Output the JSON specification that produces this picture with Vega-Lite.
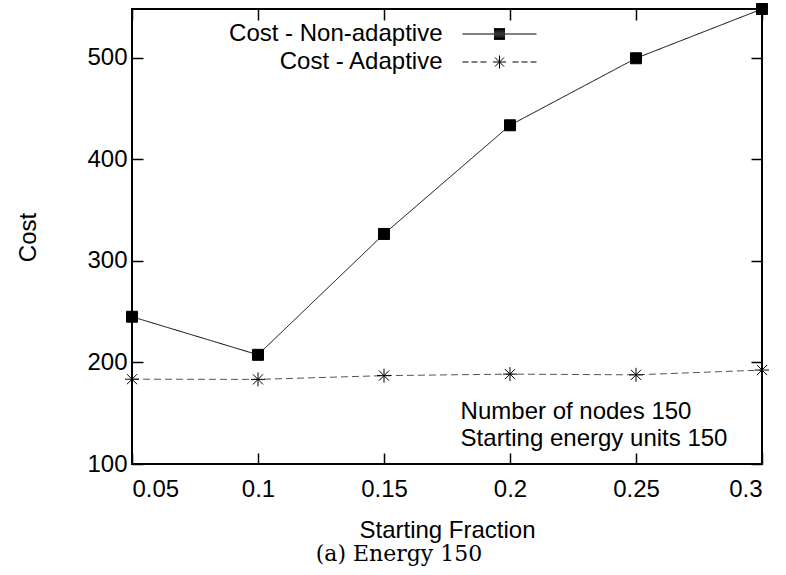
{
  "$schema": "https://vega.github.io/schema/vega-lite/v6.json",
  "autosize": {"type": "none"},
  "padding": {"left": 132, "top": 9, "right": 24, "bottom": 111},
  "width": 630,
  "height": 455,
  "background": "white",
  "title": {
    "text": "(a) Energy 150",
    "orient": "bottom",
    "anchor": "middle",
    "frame": "group",
    "dx": -48,
    "offset": 2,
    "font": "DejaVu Serif",
    "fontSize": 22,
    "fontWeight": "normal",
    "color": "black"
  },
  "config": {
    "view": {"stroke": "black", "strokeWidth": 2},
    "axis": {
      "labelFont": "Liberation Sans",
      "labelFontSize": 24,
      "labelColor": "black",
      "titleFont": "Liberation Sans",
      "titleFontSize": 24,
      "titleFontWeight": "normal",
      "titleColor": "black",
      "tickColor": "black",
      "tickWidth": 1.5,
      "tickSize": -11,
      "domain": false,
      "grid": false
    },
    "legend": {
      "labelFont": "Liberation Sans",
      "labelFontSize": 24,
      "labelColor": "black",
      "labelLimit": 500
    }
  },
  "data": {
    "values": [
      {"fraction": 0.05, "cost": 245, "series": "Cost - Non-adaptive"},
      {"fraction": 0.1, "cost": 207.5, "series": "Cost - Non-adaptive"},
      {"fraction": 0.15, "cost": 326.5, "series": "Cost - Non-adaptive"},
      {"fraction": 0.2, "cost": 433.5, "series": "Cost - Non-adaptive"},
      {"fraction": 0.25, "cost": 499.5, "series": "Cost - Non-adaptive"},
      {"fraction": 0.3, "cost": 548, "series": "Cost - Non-adaptive"},
      {"fraction": 0.05, "cost": 183.5, "series": "Cost - Adaptive"},
      {"fraction": 0.1, "cost": 183.3, "series": "Cost - Adaptive"},
      {"fraction": 0.15, "cost": 187, "series": "Cost - Adaptive"},
      {"fraction": 0.2, "cost": 188.5, "series": "Cost - Adaptive"},
      {"fraction": 0.25, "cost": 187.8, "series": "Cost - Adaptive"},
      {"fraction": 0.3, "cost": 192.5, "series": "Cost - Adaptive"}
    ]
  },
  "resolve": {
    "axis": {"x": "independent", "y": "independent"},
    "scale": {"shape": "independent"},
    "legend": {"shape": "independent"}
  },
  "layer": [
    {
      "mark": {"type": "line", "strokeWidth": 1},
      "encoding": {
        "x": {
          "field": "fraction", "type": "quantitative",
          "scale": {"domain": [0.05, 0.3], "nice": false, "zero": false},
          "axis": {
            "orient": "bottom",
            "values": [0.05, 0.1, 0.15, 0.2, 0.25, 0.3],
            "format": "~g",
            "labelPadding": 24,
            "title": "Starting Fraction",
            "titlePadding": 17
          }
        },
        "y": {
          "field": "cost", "type": "quantitative",
          "scale": {"domain": [100, 548], "nice": false, "zero": false},
          "axis": {
            "orient": "left",
            "values": [100, 200, 300, 400, 500],
            "labelPadding": 16,
            "title": "Cost",
            "titleX": -97,
            "titleY": 228,
            "titleAngle": -90,
            "titleBaseline": "alphabetic"
          }
        },
        "detail": {"field": "series", "type": "nominal"},
        "strokeDash": {
          "condition": {"test": "datum.series === 'Cost - Adaptive'", "value": [7, 4]},
          "value": [1, 0]
        },
        "stroke": {
          "condition": {"test": "datum.series === 'Cost - Adaptive'", "value": "#555555"},
          "value": "black"
        }
      }
    },
    {
      "mark": {"type": "point", "strokeWidth": 1, "opacity": 1},
      "encoding": {
        "x": {
          "field": "fraction", "type": "quantitative",
          "axis": {"orient": "top", "values": [0.05, 0.1, 0.15, 0.2, 0.25, 0.3], "labels": false, "title": null}
        },
        "y": {
          "field": "cost", "type": "quantitative",
          "axis": {"orient": "right", "values": [100, 200, 300, 400, 500], "labels": false, "title": null}
        },
        "shape": {
          "field": "series", "type": "nominal",
          "scale": {"domain": ["Cost - Non-adaptive", "Cost - Adaptive"], "range": ["square", "M-1,0H1M0,-1V1M-0.72,-0.72L0.72,0.72M-0.72,0.72L0.72,-0.72"]},
          "legend": null
        },
        "fill": {
          "condition": {"test": "datum.series === 'Cost - Adaptive'", "value": "transparent"},
          "value": "black"
        },
        "stroke": {"value": "black"},
        "size": {
          "condition": {"test": "datum.series === 'Cost - Adaptive'", "value": 196},
          "value": 121
        }
      }
    },
    {
      "mark": {"type": "point", "filled": false, "color": "black", "strokeWidth": 1, "opacity": 0},
      "encoding": {
        "x": {"field": "fraction", "type": "quantitative", "axis": null},
        "y": {"field": "cost", "type": "quantitative", "axis": null},
        "shape": {
          "field": "series", "type": "nominal",
          "scale": {
            "domain": ["Cost - Non-adaptive", "Cost - Adaptive"],
            "range": [
              "M-6.17,0H6.17M-0.92,-0.9H0.92M-0.92,-0.75H0.92M-0.92,-0.6H0.92M-0.92,-0.45H0.92M-0.92,-0.3H0.92M-0.92,-0.15H0.92M-0.92,0.15H0.92M-0.92,0.3H0.92M-0.92,0.45H0.92M-0.92,0.6H0.92M-0.92,0.75H0.92M-0.92,0.9H0.92",
              "M-6.17,0H-5.17M-4.67,0H-3.67M-3.17,0H-2.17M2.17,0H3.17M3.67,0H4.67M5.17,0H6.17M-1.08,0H1.08M0,-1.08V1.08M-0.76,-0.76L0.76,0.76M-0.76,0.76L0.76,-0.76"
            ]
          },
          "legend": {
            "orient": "none",
            "legendX": 355.5,
            "legendY": 13,
            "padding": 0,
            "title": null,
            "labelAlign": "right",
            "labelOffset": -69,
            "rowPadding": 4,
            "symbolSize": 144,
            "symbolOpacity": 1,
            "symbolStrokeColor": "black",
            "symbolStrokeWidth": 1
          }
        }
      }
    },
    {
      "data": {"values": [{"note": "annotation"}]},
      "mark": {
        "type": "text",
        "align": "left",
        "baseline": "alphabetic",
        "font": "Liberation Sans",
        "fontSize": 24,
        "lineHeight": 27,
        "color": "black"
      },
      "encoding": {
        "x": {"datum": 0.1804, "type": "quantitative", "axis": null},
        "y": {"datum": 144.5, "type": "quantitative", "axis": null},
        "text": {"value": ["Number of nodes 150", "Starting energy units 150"]}
      }
    }
  ]
}
